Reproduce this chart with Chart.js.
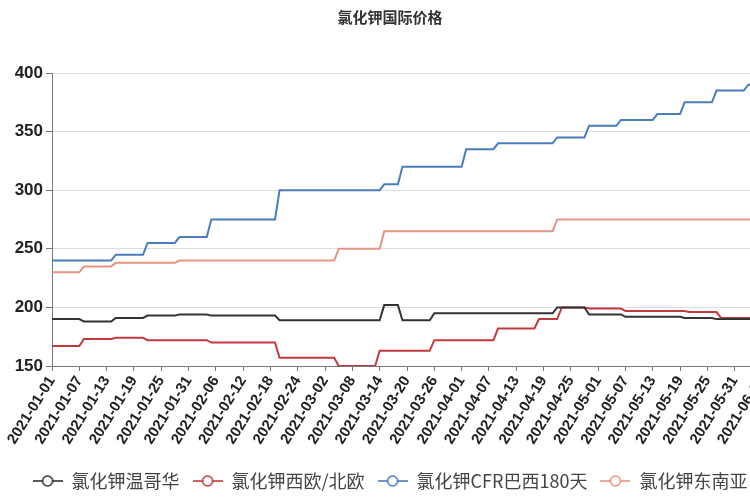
<!DOCTYPE html>
<html>
<head>
<meta charset="utf-8">
<script src="https://cdn.jsdelivr.net/npm/chart.js@4.4.1/dist/chart.umd.min.js"></script>
<style>
  html, body { margin: 0; padding: 0; background: #fff; overflow: hidden; }
  #wrap { width: 780px; height: 500px; }
</style>
</head>
<body>
<div id="wrap"><canvas id="c" width="780" height="500"></canvas></div>
<script>
// Tick labels on the day axis, one every six days from 2021-01-01
const tickDates = [
  '2021-01-01', '2021-01-07', '2021-01-13', '2021-01-19', '2021-01-25', '2021-01-31',
  '2021-02-06', '2021-02-12', '2021-02-18', '2021-02-24', '2021-03-02', '2021-03-08',
  '2021-03-14', '2021-03-20', '2021-03-26', '2021-04-01', '2021-04-07', '2021-04-13',
  '2021-04-19', '2021-04-25', '2021-05-01', '2021-05-07', '2021-05-13', '2021-05-19',
  '2021-05-25', '2021-05-31', '2021-06-06'
];

const seriesNames = ['氯化钾温哥华', '氯化钾西欧/北欧', '氯化钾CFR巴西180天', '氯化钾东南亚'];

// Price periods: [first day, last day, price], day 0 = 2021-01-01
const vancouver = [
  [0, 6, 190], [7, 13, 188], [14, 20, 191], [21, 27, 193], [28, 34, 194], [35, 49, 193],
  [50, 72, 189], [73, 76, 202], [77, 83, 189], [84, 110, 195], [111, 117, 200],
  [118, 125, 194], [126, 138, 192], [139, 145, 191], [146, 156, 190]
];
const westEurope = [
  [0, 6, 167], [7, 13, 173], [14, 20, 174], [21, 34, 172], [35, 49, 170], [50, 62, 157],
  [63, 71, 150], [72, 83, 163], [84, 97, 172], [98, 106, 182], [107, 111, 190],
  [112, 117, 200], [118, 125, 199], [126, 139, 197], [140, 146, 196], [147, 156, 191]
];
const brazilCfr = [
  [0, 13, 240], [14, 20, 245], [21, 27, 255], [28, 34, 260], [35, 49, 275], [50, 72, 300],
  [73, 76, 305], [77, 90, 320], [91, 97, 335], [98, 110, 340], [111, 117, 345],
  [118, 124, 355], [125, 132, 360], [133, 138, 365], [139, 145, 375], [146, 152, 385],
  [153, 156, 390]
];
const southeastAsia = [
  [0, 6, 230], [7, 13, 235], [14, 27, 238], [28, 62, 240], [63, 72, 250],
  [73, 110, 265], [111, 156, 275]
];

const yTicks = { min: 150, max: 400, step: 50 };

const colors = ['#333333', '#c23a3e', '#4a7dbb', '#e59583'];

// Each period becomes two points (start and end); the line then rises or
// falls over the single day between periods.
function toPoints(periods) {
  const pts = [];
  periods.forEach(([from, to, price]) => {
    pts.push({ x: from, y: price });
    if (to !== from) pts.push({ x: to, y: price });
  });
  return pts;
}

// Legend symbol: a short line with an open circle
function legendMarker(color) {
  const c = document.createElement('canvas');
  c.width = 30; c.height = 14;
  const g = c.getContext('2d');
  g.strokeStyle = color;
  g.lineWidth = 1.6;
  g.beginPath(); g.moveTo(0, 7); g.lineTo(30, 7); g.stroke();
  g.beginPath(); g.arc(15, 7, 5, 0, Math.PI * 2);
  g.fillStyle = '#fff'; g.fill(); g.stroke();
  return c;
}
const markers = colors.map(legendMarker);

const allSeries = [vancouver, westEurope, brazilCfr, southeastAsia];

const tickFont = { family: '"Liberation Sans", Arial, sans-serif', size: 15, weight: 'bold' };

new Chart(document.getElementById('c'), {
  type: 'line',
  data: {
    datasets: allSeries.map((s, i) => ({
      label: seriesNames[i],
      data: toPoints(s),
      borderColor: colors[i],
      backgroundColor: '#fff',
      borderWidth: 2,
      pointRadius: 0,
      tension: 0,
      fill: false
    }))
  },
  options: {
    responsive: false,
    animation: false,
    layout: { padding: 0 },
    plugins: {
      tooltip: { enabled: false },
      title: {
        display: true,
        text: '氯化钾国际价格',
        color: '#333',
        font: { family: '"Noto Sans CJK SC", sans-serif', size: 15, weight: 'bold' },
        padding: { top: 8, bottom: 47 }
      },
      legend: {
        position: 'bottom',
        labels: {
          usePointStyle: true,
          pointStyleWidth: 30,
          padding: 13,
          color: '#444',
          font: { family: '"Noto Sans CJK SC", sans-serif', size: 18 },
          generateLabels(chart) {
            const items = Chart.defaults.plugins.legend.labels.generateLabels(chart);
            return items.map((it, i) => Object.assign(it, { pointStyle: markers[i] }));
          }
        }
      }
    },
    scales: {
      x: {
        type: 'linear',
        min: 0,
        max: 156,
        ticks: {
          stepSize: 6,
          autoSkip: false,
          minRotation: 58,
          maxRotation: 58,
          padding: 2,
          color: '#222',
          font: tickFont,
          callback: (v) => tickDates[Math.round(v / 6)] || ''
        },
        grid: { drawOnChartArea: false, tickLength: 5, tickColor: '#777' },
        border: { color: '#777' },
        afterFit(scale) { scale.height = 93; scale.paddingRight = 18; }
      },
      y: {
        min: yTicks.min,
        max: yTicks.max,
        ticks: { stepSize: yTicks.step, color: '#222', font: Object.assign({}, tickFont, { size: 17 }), padding: 3 },
        grid: { color: '#dcdcdc', tickLength: 6, tickColor: '#777' },
        border: { color: '#777' },
        afterFit(scale) { scale.width = 52; }
      }
    }
  }
});
</script>
</body>
</html>
